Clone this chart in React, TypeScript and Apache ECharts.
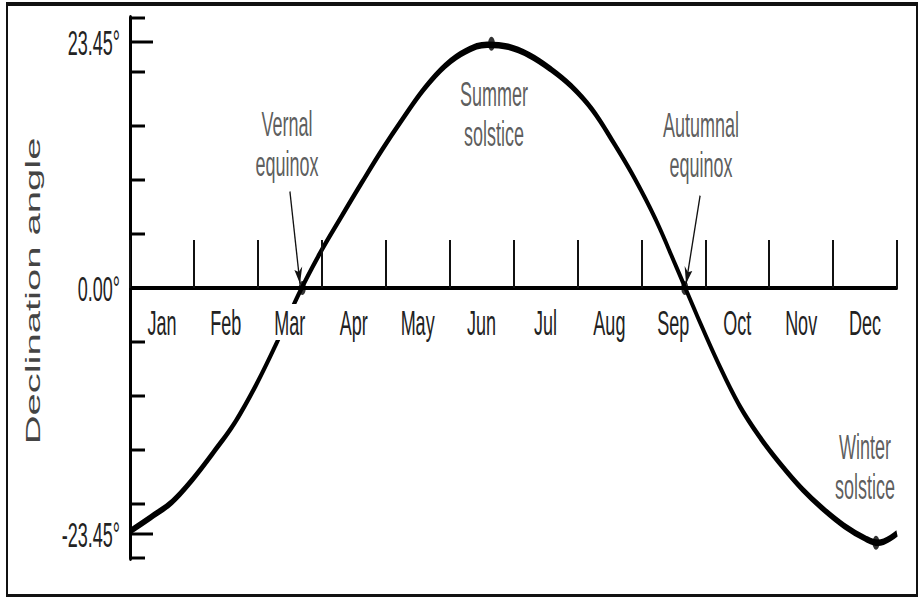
import React, { useEffect, useRef } from "react";
import * as echarts from "echarts";

// ---- data ----
const months = ["Jan", "Feb", "Mar", "Apr", "May", "Jun", "Jul", "Aug", "Sep", "Oct", "Nov", "Dec"];
const dayOfYear = [0, 10, 20, 30, 40, 50, 60, 70, 80, 90, 100, 110, 120, 130, 140, 150, 160, 170, 180, 190, 200, 210, 220, 230, 240, 250, 260, 270, 280, 290, 300, 310, 320, 330, 340, 350, 356, 365];
const declination = [-23.2, -21.85, -20.4, -18.2, -15.6, -12.8, -9.25, -5.15, -0.7, 3.17, 6.6, 9.95, 13.2, 16.2, 19.0, 21.2, 22.6, 23.2, 23.0, 22.2, 20.9, 19.25, 17.0, 13.9, 10.5, 6.6, 2.0, -2.7, -7.2, -11.2, -14.3, -16.9, -19.2, -21.1, -22.7, -23.9, -24.3, -23.4];
const eventNames = ["Vernal\nequinox", "Summer\nsolstice", "Autumnal\nequinox", "Winter\nsolstice"];
const eventDays = [82, 172, 264, 355];
const eventDecl = [0, 23.3, 0, -24.3];
const yTickLabels = [-23.45, 0, 23.45];
const yMinorStep = 5.15;
const yLimit = 25.75;

const FONT = "'Liberation Sans', Arial, Helvetica, sans-serif";

export default function App() {
  const ref = useRef<HTMLDivElement>(null);
  useEffect(() => {
    if (!ref.current) return;
    const chart = echarts.init(ref.current, null, { renderer: "svg" });
    // label anchors for the annotation texts (in data units)
    const labelAnchors: [number, number][] = [
      [74.7, 13.75],
      [173.2, 16.7],
      [271.7, 13.7],
      [349.8, -16.97],
    ];
    const option: any = {
      animation: false,
      backgroundColor: "#fff",
      grid: { left: 130, right: 22, top: 9, bottom: 20, containLabel: false },
      xAxis: [
        {
          type: "category",
          data: months,
          boundaryGap: true,
          position: "bottom",
          offset: -135,
          z: 5,
          axisLine: { show: true, onZero: false, lineStyle: { color: "#000", width: 2 } },
          axisTick: { show: true, inside: true, length: 24, alignWithLabel: false, lineStyle: { color: "#111", width: 2 } },
          axisLabel: {
            show: true,
            margin: 8,
            fontSize: 18,
            color: "#222",
            fontFamily: FONT,
            backgroundColor: "#fff",
          },
          splitLine: { show: false },
        },
        { type: "value", min: 0, max: 365, show: false },
      ],
      yAxis: [
        {
          type: "value",
          min: -yLimit,
          max: yLimit,
          interval: yMinorStep,
          axisLine: { show: true, onZero: false, lineStyle: { color: "#000", width: 3 } },
          axisTick: { show: true, inside: true, length: 15, lineStyle: { color: "#000", width: 1.5 } },
          axisLabel: { show: false },
          splitLine: { show: false },
        },
        {
          type: "value",
          min: -yLimit,
          max: yLimit,
          position: "left",
          offset: 0,
          axisLine: { show: false, onZero: false },
          axisTick: { show: true, inside: true, length: 23, customValues: [yTickLabels[0], yTickLabels[2]], lineStyle: { color: "#000", width: 1.5 } },
          axisLabel: {
            show: true,
            customValues: yTickLabels,
            margin: 10,
            fontSize: 18,
            color: "#222",
            fontFamily: FONT,
            formatter: (v: number) => v.toFixed(2) + "°",
          },
          splitLine: { show: false },
        },
      ],
      series: [
        {
          type: "line",
          xAxisIndex: 1,
          yAxisIndex: 0,
          data: dayOfYear.map((d, i) => [d, declination[i]]),
          smooth: 0.4,
          showSymbol: false,
          z: 3,
          lineStyle: { color: "#000", width: 3.3 },
          markLine: {
            silent: true,
            symbol: ["none", "arrow"],
            symbolSize: [6, 8],
            label: { show: false },
            lineStyle: { color: "#111", width: 1.3, type: "solid" },
            data: [
              [{ coord: [76.1, 9.2] }, { coord: [80.9, 0.4] }],
              [{ coord: [271.3, 8.8] }, { coord: [264.6, 0.4] }],
            ],
          },
        },
        {
          type: "scatter",
          xAxisIndex: 1,
          yAxisIndex: 0,
          symbol: "circle",
          symbolSize: 7,
          z: 6,
          itemStyle: { color: "#000" },
          data: eventDays.map((d, i) => [d, eventDecl[i]]),
        },
        {
          type: "scatter",
          xAxisIndex: 1,
          yAxisIndex: 0,
          symbolSize: 1,
          silent: true,
          itemStyle: { color: "transparent" },
          label: {
            show: true,
            position: "inside",
            formatter: (p: any) => p.name,
            fontSize: 18,
            lineHeight: 20,
            color: "#333",
            fontFamily: FONT,
            align: "center",
          },
          data: eventNames.map((n, i) => ({ name: n, value: labelAnchors[i] })),
        },
      ],
      graphic: [
        {
          type: "rect",
          silent: true,
          shape: { x: 7, y: 2, width: 910, height: 296 },
          style: { fill: "none", stroke: "#111", lineWidth: 2 },
        },
        {
          type: "text",
          silent: true,
          x: 33,
          y: 145.5,
          rotation: Math.PI / 2,
          style: {
            text: "Declination angle",
            fontSize: 20,
            fontFamily: FONT,
            fill: "#444",
            align: "center",
            verticalAlign: "middle",
          },
        },
      ],
    };
    chart.setOption(option);
    return () => chart.dispose();
  }, []);
  return (
    <div
      ref={ref}
      style={{
        position: "absolute",
        left: 0,
        top: 0,
        width: 919,
        height: 299,
        transform: "scaleY(2)",
        transformOrigin: "0 0",
        background: "#fff",
      }}
    />
  );
}
